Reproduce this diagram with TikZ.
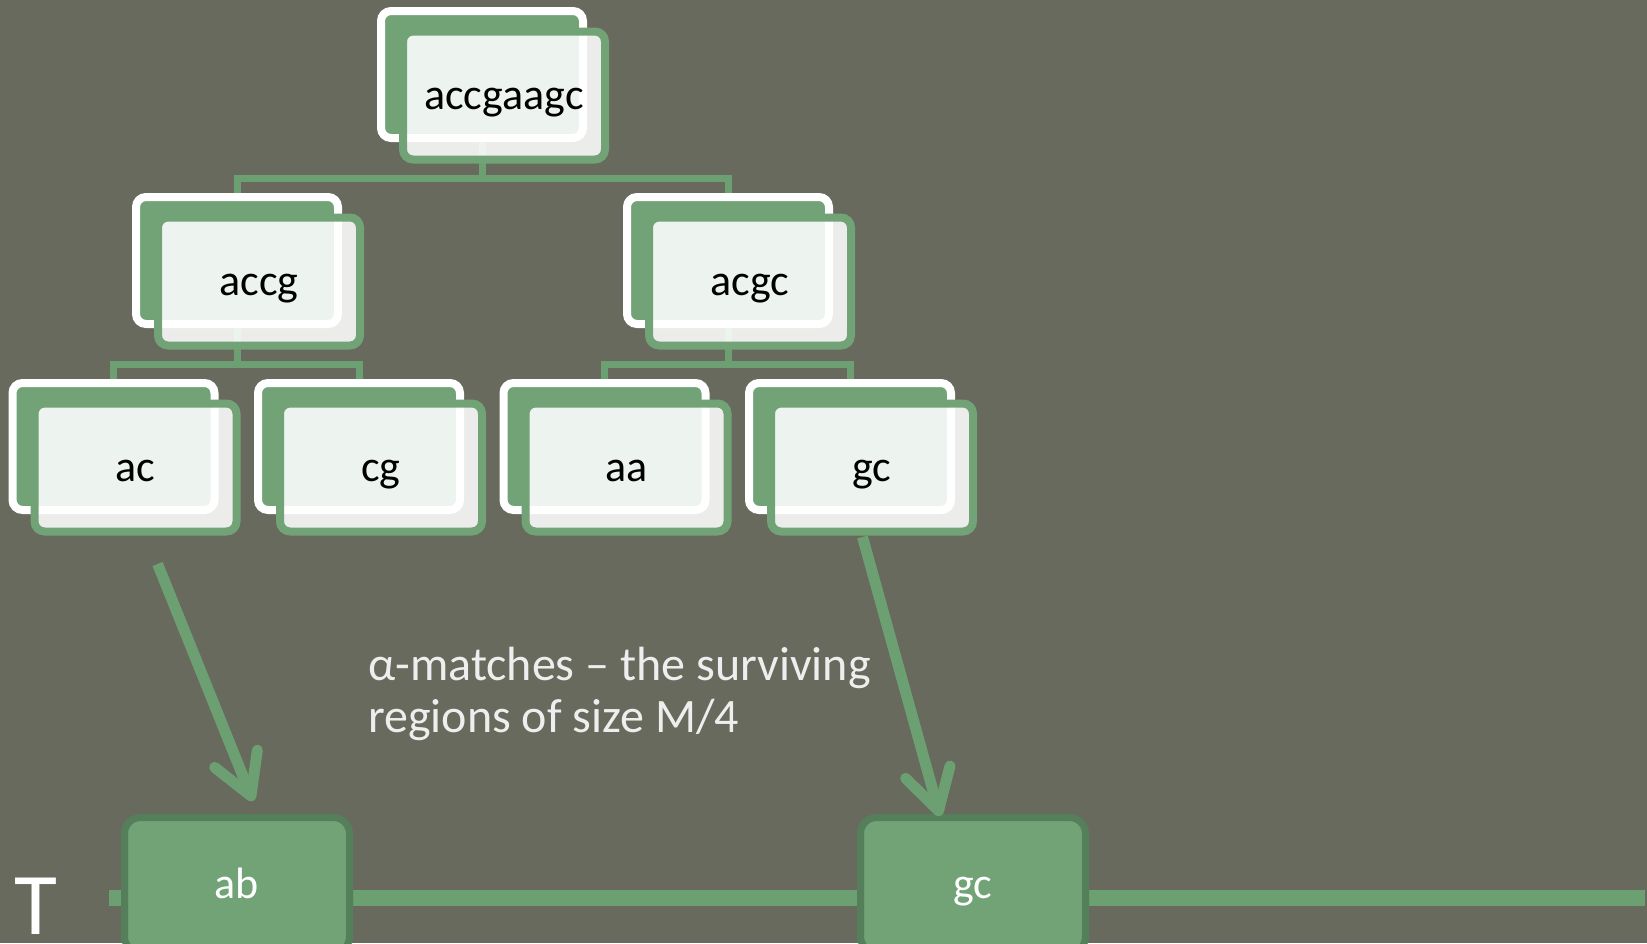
\documentclass[tikz,border=0pt]{standalone}
\usepackage{fontspec}
\setmainfont{Carlito}
\usetikzlibrary{arrows.meta,backgrounds,calc}
\definecolor{bgc}{HTML}{676A5C}
\definecolor{gfill}{HTML}{71A377}
\definecolor{gline}{HTML}{6C9F71}
\definecolor{gdark}{HTML}{557E5A}
\definecolor{lblc}{HTML}{EEEEEE}
\begin{document}
\begin{tikzpicture}[x=1pt,y=-1pt,
  backbox/.style={draw=white, fill=gfill, line width=8pt, rounded corners=10pt,
    minimum width=202pt, minimum height=127pt, inner sep=0pt},
  frontbox/.style={draw=gfill, fill=white, fill opacity=0.88, draw opacity=1, text opacity=1,
    line width=8pt, rounded corners=10pt, minimum width=202pt, minimum height=128pt,
    inner sep=0pt, font=\fontsize{44}{50}\selectfont, text height=33pt, text depth=6pt, text=black},
  botbox/.style={draw=gdark, fill=gfill, line width=7pt, rounded corners=16pt,
    minimum width=225pt, minimum height=135pt, inner sep=0pt, text=white,
    font=\fontsize{44}{50}\selectfont, text height=32pt, text depth=6pt},
  conn/.style={draw=gline, line width=7pt},
  tline/.style={draw=gline, line width=16pt},
  arr/.style={draw=gline, line width=11pt, -{Straight Barb[length=40pt, width=46pt, round]}},
  lbl/.style={text=lblc, font=\fontsize{48}{52}\selectfont, inner sep=0pt, align=left}
]
\path[use as bounding box] (0,0) rectangle (1647,943);
\clip (0,0) rectangle (1647,943);

% tree nodes
\node[backbox] (topb) at (482,74.5) {};
\node[frontbox] (top) at (504,95.5) {accgaagc};
\node[backbox] (accgb) at (237,260.5) {};
\node[frontbox] (accg) at (259,281.5) {accg};
\node[backbox] (acgcb) at (728,260.5) {};
\node[frontbox] (acgc) at (750,281.5) {acgc};
\node[backbox] (acb) at (113.5,446.5) {};
\node[frontbox] (ac) at (135.5,467.5) {ac};
\node[backbox] (cgb) at (359,446.5) {};
\node[frontbox] (cg) at (381,467.5) {cg};
\node[backbox] (aab) at (604.5,446.5) {};
\node[frontbox] (aa) at (626.5,467.5) {aa};
\node[backbox] (gcb) at (850,446.5) {};
\node[frontbox] (gc) at (872,467.5) {gc};

\begin{pgfonlayer}{background}
  \fill[bgc] (0,0) rectangle (1647,943);
  \draw[conn] (topb.south) -- ++(0,36) -| (accgb.north);
  \draw[conn] (topb.south) -- ++(0,36) -| (acgcb.north);
  \draw[conn] (accgb.south) -- ++(0,36) -| (acb.north);
  \draw[conn] (accgb.south) -- ++(0,36) -| (cgb.north);
  \draw[conn] (acgcb.south) -- ++(0,36) -| (aab.north);
  \draw[conn] (acgcb.south) -- ++(0,36) -| (gcb.north);
\end{pgfonlayer}

% text line T
\coordinate (tl) at (109,898);
\coordinate (tr) at (1645,898);
\draw[tline] (tl) -- (tr);
\node[botbox] (ab) at (237,885) {ab};
\node[botbox] (gcT) at (973,885) {gc};
\node[text=white, font=\fontsize{88}{92}\selectfont, inner sep=0pt, anchor=base west] (T) at (14,934) {T};

% arrows
\coordinate (a1s) at (157.6,564);
\coordinate (a1e) at (253,801);
\coordinate (a2s) at (862.5,537);
\coordinate (a2e) at (940,816);
\draw[arr] (a1s) -- (a1e);
\draw[arr] (a2s) -- (a2e);

\node[lbl, anchor=base west] (label) at (368,732) {α-matches – the surviving\\regions of size M/4};
\end{tikzpicture}
\end{document}
